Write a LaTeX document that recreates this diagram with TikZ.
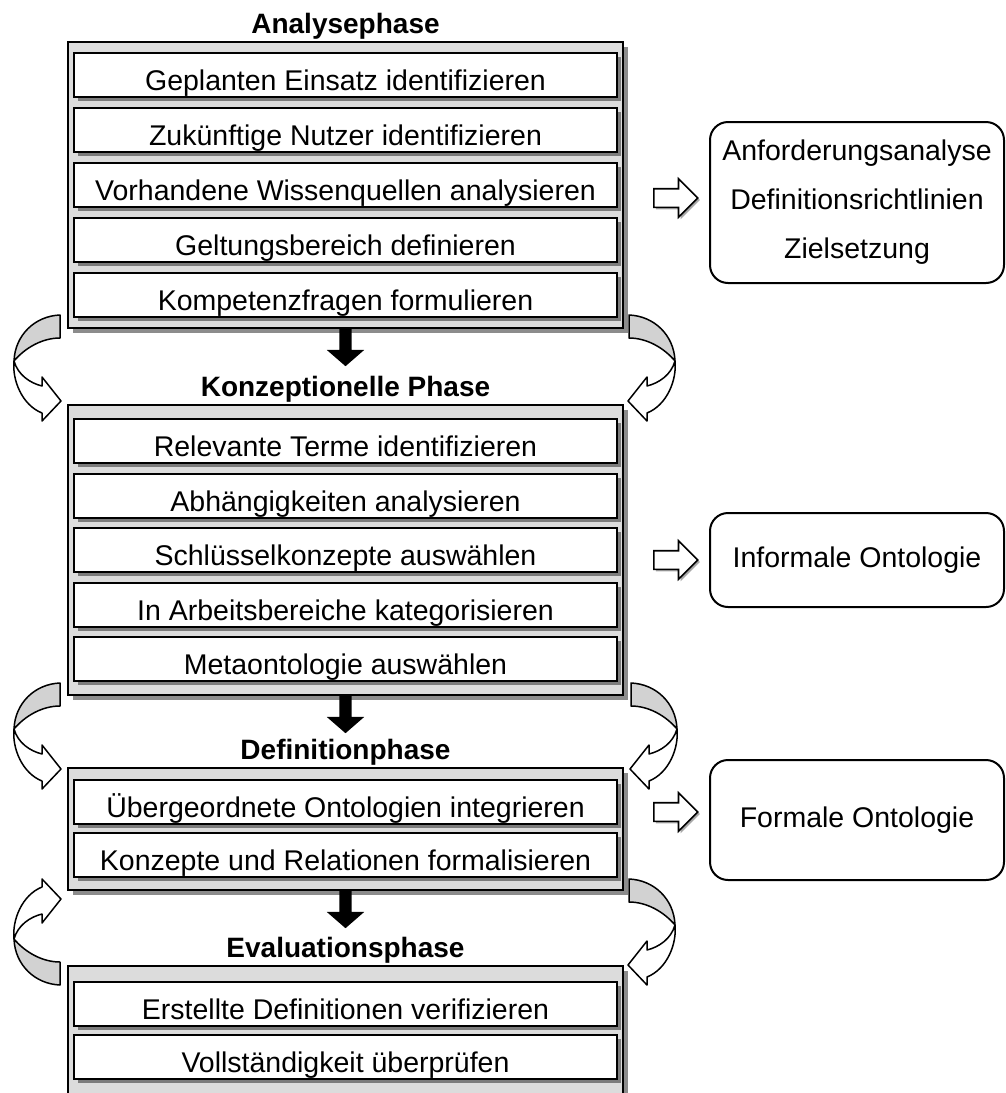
\documentclass[tikz,border=0pt]{standalone}
\usepackage{fontspec}
\setmainfont{Liberation Sans}
\usetikzlibrary{shapes.arrows,shadows}

\definecolor{panelfill}{HTML}{DCDCDC}
\definecolor{panelshade}{HTML}{8C8C8C}
\definecolor{rowshade}{HTML}{7C7C7C}
\definecolor{bandgray}{HTML}{D2D2D2}
\definecolor{arrowshade}{HTML}{A8A8A8}

\newcommand{\bodysize}{\fontsize{28.5}{34}\selectfont}
\newcommand{\headsize}{\bfseries\fontsize{28}{34}\selectfont}
\newcommand{\resultsize}{\fontsize{28.5}{49}\selectfont}

\tikzset{
  panel/.style={draw=black, line width=2pt, fill=panelfill, minimum width=555pt, inner sep=0pt,
    general shadow={fill=panelshade, shadow xshift=5pt, shadow yshift=-5pt}},
  taskrow/.style={draw=black, line width=2pt, fill=white, minimum width=543pt, minimum height=44pt,
    inner sep=0pt, text height=35pt, text depth=4pt, font=\bodysize,
    general shadow={fill=rowshade, shadow xshift=4pt, shadow yshift=-4pt}},
  phasetitle/.style={anchor=base, inner sep=0pt, font=\headsize},
  flowarrow/.style={single arrow, fill=black, rotate=-90, anchor=tail, minimum height=37pt,
    inner xsep=0pt, inner ysep=6pt, single arrow head extend=12.5pt, single arrow tip angle=98},
  outarrow/.style={single arrow, draw=black, fill=white, line width=1.6pt, anchor=tail,
    minimum height=44pt, inner xsep=0pt, inner ysep=8.5pt, single arrow head extend=10pt,
    general shadow={fill=arrowshade, shadow xshift=2pt, shadow yshift=-2pt}},
  resultbox/.style={draw=black, line width=2pt, fill=white, rounded corners=18pt,
    minimum width=294pt, align=center, font=\resultsize},
  % curved ribbon arrow: grey back side, white front side with head
  bend arrow/.pic={
    \filldraw[fill=bandgray, draw=black, line width=1.5pt, line join=round]
      (46,-46) .. controls (21,-45) and (1,-26) .. (0,0)
      .. controls (11,-13) and (28,-23) .. (46,-23) -- cycle;
    \filldraw[fill=white, draw=black, line width=1.5pt, line join=round]
      (0,0) .. controls (-2,19) and (8,44) .. (28,52) -- (28,60) -- (47,40)
      -- (28,16) -- (28,25) .. controls (16,22) and (4,14) .. (0,0) -- cycle;
  }
}

\begin{document}
\begin{tikzpicture}[x=1pt, y=-1pt]
\useasboundingbox (0,0) rectangle (1006,1093);
\clip (0,0) rectangle (1006,1093);

% ---- Analysephase ----
\node[panel, minimum height=286pt] (p1) at (345.5,185) {};
\node[phasetitle] (t1) at (345.5,33) {Analysephase};
\node[taskrow] (a1) at (345.5,75)  {Geplanten Einsatz identifizieren};
\node[taskrow] (a2) at (345.5,130) {Zukünftige Nutzer identifizieren};
\node[taskrow] (a3) at (345.5,185) {Vorhandene Wissenquellen analysieren};
\node[taskrow] (a4) at (345.5,240) {Geltungsbereich definieren};
\node[taskrow] (a5) at (345.5,295) {Kompetenzfragen formulieren};

% ---- Konzeptionelle Phase ----
\node[panel, minimum height=290pt] (p2) at (345.5,550) {};
\node[phasetitle] (t2) at (345.5,396) {Konzeptionelle Phase};
\node[taskrow] (k1) at (345.5,441)   {Relevante Terme identifizieren};
\node[taskrow] (k2) at (345.5,495.5) {Abhängigkeiten analysieren};
\node[taskrow] (k3) at (345.5,550)   {Schlüsselkonzepte auswählen};
\node[taskrow] (k4) at (345.5,604.5) {In Arbeitsbereiche kategorisieren};
\node[taskrow] (k5) at (345.5,659)   {Metaontologie auswählen};

% ---- Definitionphase ----
\node[panel, minimum height=122pt] (p3) at (345.5,829) {};
\node[phasetitle] (t3) at (345.5,759) {Definitionphase};
\node[taskrow] (d1) at (345.5,802) {Übergeordnete Ontologien integrieren};
\node[taskrow] (d2) at (345.5,855) {Konzepte und Relationen formalisieren};

% ---- Evaluationsphase ----
\node[panel, minimum height=160pt] (p4) at (345.5,1046) {};
\node[phasetitle] (t4) at (345.5,957) {Evaluationsphase};
\node[taskrow] (e1) at (345.5,1004) {Erstellte Definitionen verifizieren};
\node[taskrow] (e2) at (345.5,1057) {Vollständigkeit überprüfen};

% ---- flow between phases ----
\node[flowarrow] (f1) at (p1.south) {};
\node[flowarrow] (f2) at (p2.south) {};
\node[flowarrow] (f3) at (p3.south) {};

% ---- results ----
\node[resultbox, minimum height=161pt] (r1) at (857,202.5)
  {Anforderungsanalyse\\Definitionsrichtlinien\\Zielsetzung};
\node[resultbox, minimum height=94pt] (r2) at (857,560) {Informale Ontologie};
\node[resultbox, minimum height=120pt] (r3) at (857,820) {Formale Ontologie};

\node[outarrow] (o1) at (653,198) {};
\node[outarrow] (o2) at (653,560) {};
\node[outarrow] (o3) at (653,812) {};

% ---- iteration arrows on both sides ----
\begin{scope}[shift={(14,361)}]\pic[transform shape] {bend arrow};\end{scope}
\begin{scope}[shift={(14,729)}]\pic[transform shape] {bend arrow};\end{scope}
\begin{scope}[shift={(14,939)}, yscale=-1]\pic[transform shape] {bend arrow};\end{scope}
\begin{scope}[shift={(675,361)}, xscale=-1]\pic[transform shape] {bend arrow};\end{scope}
\begin{scope}[shift={(677,729)}, xscale=-1]\pic[transform shape] {bend arrow};\end{scope}
\begin{scope}[shift={(675,925)}, xscale=-1]\pic[transform shape] {bend arrow};\end{scope}
\end{tikzpicture}
\end{document}
